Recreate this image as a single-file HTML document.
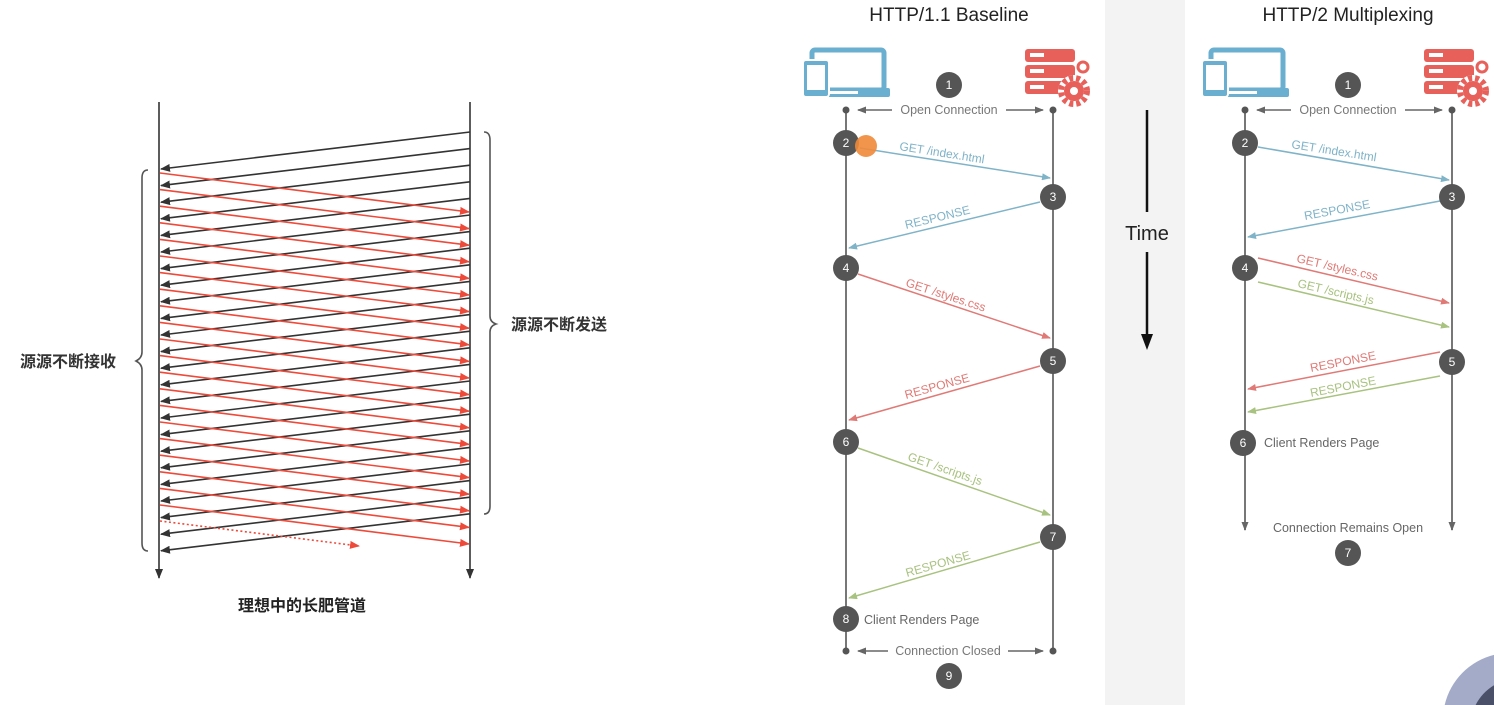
<!DOCTYPE html>
<html><head><meta charset="utf-8"><style>
html,body{margin:0;padding:0;background:#fff;width:1494px;height:705px;overflow:hidden}
svg{display:block}
text{font-family:"Liberation Sans","Noto Sans CJK SC",sans-serif}
</style></head><body>
<svg width="1494" height="705" viewBox="0 0 1494 705" xmlns="http://www.w3.org/2000/svg">
<defs>
<marker id="ak" markerWidth="10" markerHeight="8" refX="9" refY="4" orient="auto" markerUnits="userSpaceOnUse"><path d="M0,0 L10,4 L0,8 z" fill="#333"/></marker>
<marker id="ar" markerWidth="10" markerHeight="8" refX="9" refY="4" orient="auto" markerUnits="userSpaceOnUse"><path d="M0,0 L10,4 L0,8 z" fill="#ee4a3a"/></marker>
<marker id="ag" markerWidth="9" markerHeight="7" refX="8" refY="3.5" orient="auto" markerUnits="userSpaceOnUse"><path d="M0,0 L9,3.5 L0,7 z" fill="#666"/></marker>
<marker id="ab" markerWidth="9" markerHeight="7" refX="8" refY="3.5" orient="auto" markerUnits="userSpaceOnUse"><path d="M0,0 L9,3.5 L0,7 z" fill="#7fb3c8"/></marker>
<marker id="arr" markerWidth="9" markerHeight="7" refX="8" refY="3.5" orient="auto" markerUnits="userSpaceOnUse"><path d="M0,0 L9,3.5 L0,7 z" fill="#e07a76"/></marker>
<marker id="agr" markerWidth="9" markerHeight="7" refX="8" refY="3.5" orient="auto" markerUnits="userSpaceOnUse"><path d="M0,0 L9,3.5 L0,7 z" fill="#a8c27f"/></marker>
<line id="bl" x1="470" y1="0" x2="161" y2="37" stroke="#333" stroke-width="1.6" marker-end="url(#ak)"/>
<line id="rl" x1="160" y1="0" x2="469" y2="39" stroke="#ee4a3a" stroke-width="1.6" marker-end="url(#ar)"/>
<g id="laptop">
<rect x="812" y="50" width="72" height="40" rx="3" fill="none" stroke="#6aaed0" stroke-width="5"/>
<rect x="803" y="88" width="87" height="9" rx="2" fill="#6aaed0"/>
<rect x="828" y="91" width="30" height="3" fill="#fff"/>
<rect x="803" y="60" width="26" height="37" rx="3" fill="#6aaed0" stroke="#fff" stroke-width="2"/>
<rect x="807" y="65" width="18" height="25" fill="#fff"/>
</g>
<g id="server">
<rect x="1025" y="49" width="50" height="13" rx="3" fill="#e8605a"/>
<rect x="1025" y="65" width="50" height="13" rx="3" fill="#e8605a"/>
<rect x="1025" y="81" width="50" height="13" rx="3" fill="#e8605a"/>
<rect x="1030" y="53" width="14" height="4" fill="#fff"/>
<rect x="1030" y="69" width="14" height="4" fill="#fff"/>
<rect x="1030" y="85" width="14" height="4" fill="#fff"/>
<circle cx="1074" cy="91" r="16" fill="#fff"/>
<circle cx="1074" cy="91" r="13" fill="none" stroke="#e8605a" stroke-width="6" stroke-dasharray="4 3"/>
<circle cx="1074" cy="91" r="10" fill="#e8605a"/>
<circle cx="1074" cy="91" r="4" fill="#fff"/>
<circle cx="1083" cy="67" r="5" fill="none" stroke="#e8605a" stroke-width="3"/>
</g>
</defs>

<line x1="159" y1="102" x2="159" y2="578" stroke="#333" stroke-width="1.6" marker-end="url(#ak)"/>
<line x1="470" y1="102" x2="470" y2="578" stroke="#333" stroke-width="1.6" marker-end="url(#ak)"/>
<g>
<use href="#bl" y="132"/><use href="#bl" y="148.6"/><use href="#bl" y="165.2"/><use href="#bl" y="181.8"/><use href="#bl" y="198.4"/><use href="#bl" y="215"/><use href="#bl" y="231.6"/><use href="#bl" y="248.2"/><use href="#bl" y="264.8"/><use href="#bl" y="281.4"/><use href="#bl" y="298"/><use href="#bl" y="314.6"/><use href="#bl" y="331.2"/><use href="#bl" y="347.8"/><use href="#bl" y="364.4"/><use href="#bl" y="381"/><use href="#bl" y="397.6"/><use href="#bl" y="414.2"/><use href="#bl" y="430.8"/><use href="#bl" y="447.4"/><use href="#bl" y="464"/><use href="#bl" y="480.6"/><use href="#bl" y="497.2"/><use href="#bl" y="513.8"/>
</g>
<g>
<use href="#rl" y="173"/><use href="#rl" y="189.6"/><use href="#rl" y="206.2"/><use href="#rl" y="222.8"/><use href="#rl" y="239.4"/><use href="#rl" y="256"/><use href="#rl" y="272.6"/><use href="#rl" y="289.2"/><use href="#rl" y="305.8"/><use href="#rl" y="322.4"/><use href="#rl" y="339"/><use href="#rl" y="355.6"/><use href="#rl" y="372.2"/><use href="#rl" y="388.8"/><use href="#rl" y="405.4"/><use href="#rl" y="422"/><use href="#rl" y="438.6"/><use href="#rl" y="455.2"/><use href="#rl" y="471.8"/><use href="#rl" y="488.4"/><use href="#rl" y="505"/>
</g>
<line x1="160" y1="521" x2="359" y2="546" stroke="#ee4a3a" stroke-width="1.6" stroke-dasharray="2 2.5" marker-end="url(#ar)"/>
<path d="M484,132 Q490,132 490,140 L490,316 Q490,322 496,324 Q490,326 490,332 L490,506 Q490,514 484,514" fill="none" stroke="#555" stroke-width="1.6"/>
<path d="M148,170 Q142,170 142,178 L142,352 Q142,358 136,361 Q142,364 142,370 L142,543 Q142,551 148,551" fill="none" stroke="#555" stroke-width="1.6"/>
<text x="511" y="330" font-size="16" font-weight="bold" fill="#333">源源不断发送</text>
<text x="20" y="367" font-size="16" font-weight="bold" fill="#333">源源不断接收</text>
<text x="238" y="611" font-size="16" font-weight="bold" fill="#222">理想中的长肥管道</text>

<rect x="1105" y="0" width="80" height="705" fill="#f3f3f3"/>
<text x="1147" y="240" font-size="20" text-anchor="middle" fill="#222">Time</text>
<line x1="1147" y1="110" x2="1147" y2="212" stroke="#111" stroke-width="2.5"/>
<line x1="1147" y1="252" x2="1147" y2="338" stroke="#111" stroke-width="2.5"/>
<path d="M1141,334 L1153,334 L1147,350 z" fill="#111"/>

<text x="949" y="21" font-size="19" text-anchor="middle" fill="#222">HTTP/1.1 Baseline</text>
<use href="#laptop"/>
<use href="#server"/>
<line x1="846" y1="110" x2="846" y2="651" stroke="#777" stroke-width="2"/>
<line x1="1053" y1="110" x2="1053" y2="651" stroke="#777" stroke-width="2"/>
<circle cx="846" cy="110" r="3.5" fill="#555"/><circle cx="1053" cy="110" r="3.5" fill="#555"/>
<circle cx="846" cy="651" r="3.5" fill="#555"/><circle cx="1053" cy="651" r="3.5" fill="#555"/>
<line x1="892" y1="110" x2="858" y2="110" stroke="#666" stroke-width="1.5" marker-end="url(#ag)"/>
<line x1="1006" y1="110" x2="1043" y2="110" stroke="#666" stroke-width="1.5" marker-end="url(#ag)"/>
<text x="949" y="114" font-size="12.5" text-anchor="middle" fill="#777">Open Connection</text>
<line x1="888" y1="651" x2="858" y2="651" stroke="#666" stroke-width="1.5" marker-end="url(#ag)"/>
<line x1="1008" y1="651" x2="1043" y2="651" stroke="#666" stroke-width="1.5" marker-end="url(#ag)"/>
<text x="948" y="655" font-size="12.5" text-anchor="middle" fill="#777">Connection Closed</text>

<line x1="860" y1="148" x2="1050" y2="178" stroke="#7fb3c8" stroke-width="1.5" marker-end="url(#ab)"/>
<text transform="translate(899,150) rotate(9)" font-size="12" fill="#7fb3c8">GET /index.html</text>
<line x1="1040" y1="202" x2="849" y2="248" stroke="#7fb3c8" stroke-width="1.5" marker-end="url(#ab)"/>
<text transform="translate(906,229) rotate(-13.5)" font-size="12" fill="#7fb3c8">RESPONSE</text>
<line x1="858" y1="274" x2="1050" y2="338" stroke="#e07a76" stroke-width="1.5" marker-end="url(#arr)"/>
<text transform="translate(905,286) rotate(18)" font-size="12" fill="#e07a76">GET /styles.css</text>
<line x1="1040" y1="366" x2="849" y2="420" stroke="#e07a76" stroke-width="1.5" marker-end="url(#arr)"/>
<text transform="translate(906,399) rotate(-15.5)" font-size="12" fill="#e07a76">RESPONSE</text>
<line x1="858" y1="448" x2="1050" y2="515" stroke="#a8c27f" stroke-width="1.5" marker-end="url(#agr)"/>
<text transform="translate(907,460) rotate(19)" font-size="12" fill="#a8c27f">GET /scripts.js</text>
<line x1="1040" y1="542" x2="849" y2="598" stroke="#a8c27f" stroke-width="1.5" marker-end="url(#agr)"/>
<text transform="translate(907,577) rotate(-16)" font-size="12" fill="#a8c27f">RESPONSE</text>
<text x="864" y="624" font-size="12.5" fill="#666">Client Renders Page</text>

<g fill="#555">
<circle cx="949" cy="85" r="13"/><circle cx="846" cy="143" r="13"/><circle cx="1053" cy="197" r="13"/>
<circle cx="846" cy="268" r="13"/><circle cx="1053" cy="361" r="13"/><circle cx="846" cy="442" r="13"/>
<circle cx="1053" cy="537" r="13"/><circle cx="846" cy="619" r="13"/><circle cx="949" cy="676" r="13"/>
</g>
<circle cx="866" cy="146" r="11" fill="#f08a3a" opacity="0.9"/>
<g fill="#fff" font-size="12" text-anchor="middle">
<text x="949" y="89">1</text><text x="846" y="147">2</text><text x="1053" y="201">3</text>
<text x="846" y="272">4</text><text x="1053" y="365">5</text><text x="846" y="446">6</text>
<text x="1053" y="541">7</text><text x="846" y="623">8</text><text x="949" y="680">9</text>
</g>

<text x="1348" y="21" font-size="19" text-anchor="middle" fill="#222">HTTP/2 Multiplexing</text>
<use href="#laptop" x="399"/>
<use href="#server" x="399"/>
<line x1="1245" y1="110" x2="1245" y2="530" stroke="#777" stroke-width="2" marker-end="url(#ag)"/>
<line x1="1452" y1="110" x2="1452" y2="530" stroke="#777" stroke-width="2" marker-end="url(#ag)"/>
<circle cx="1245" cy="110" r="3.5" fill="#555"/><circle cx="1452" cy="110" r="3.5" fill="#555"/>
<line x1="1291" y1="110" x2="1257" y2="110" stroke="#666" stroke-width="1.5" marker-end="url(#ag)"/>
<line x1="1405" y1="110" x2="1442" y2="110" stroke="#666" stroke-width="1.5" marker-end="url(#ag)"/>
<text x="1348" y="114" font-size="12.5" text-anchor="middle" fill="#777">Open Connection</text>

<line x1="1258" y1="147" x2="1449" y2="180" stroke="#7fb3c8" stroke-width="1.5" marker-end="url(#ab)"/>
<text transform="translate(1291,148) rotate(9)" font-size="12" fill="#7fb3c8">GET /index.html</text>
<line x1="1440" y1="201" x2="1248" y2="237" stroke="#7fb3c8" stroke-width="1.5" marker-end="url(#ab)"/>
<text transform="translate(1305,220) rotate(-10.5)" font-size="12" fill="#7fb3c8">RESPONSE</text>
<line x1="1258" y1="258" x2="1449" y2="303" stroke="#e07a76" stroke-width="1.5" marker-end="url(#arr)"/>
<text transform="translate(1296,262) rotate(13)" font-size="12" fill="#e07a76">GET /styles.css</text>
<line x1="1258" y1="282" x2="1449" y2="327" stroke="#a8c27f" stroke-width="1.5" marker-end="url(#agr)"/>
<text transform="translate(1297,287) rotate(13)" font-size="12" fill="#a8c27f">GET /scripts.js</text>
<line x1="1440" y1="352" x2="1248" y2="389" stroke="#e07a76" stroke-width="1.5" marker-end="url(#arr)"/>
<text transform="translate(1311,372) rotate(-11)" font-size="12" fill="#e07a76">RESPONSE</text>
<line x1="1440" y1="376" x2="1248" y2="412" stroke="#a8c27f" stroke-width="1.5" marker-end="url(#agr)"/>
<text transform="translate(1311,397) rotate(-11)" font-size="12" fill="#a8c27f">RESPONSE</text>
<text x="1264" y="447" font-size="12.5" fill="#666">Client Renders Page</text>
<text x="1348" y="532" font-size="12.5" text-anchor="middle" fill="#666">Connection Remains Open</text>

<g fill="#555">
<circle cx="1348" cy="85" r="13"/><circle cx="1245" cy="143" r="13"/><circle cx="1452" cy="197" r="13"/>
<circle cx="1245" cy="268" r="13"/><circle cx="1452" cy="362" r="13"/><circle cx="1243" cy="443" r="13"/>
<circle cx="1348" cy="553" r="13"/>
</g>
<g fill="#fff" font-size="12" text-anchor="middle">
<text x="1348" y="89">1</text><text x="1245" y="147">2</text><text x="1452" y="201">3</text>
<text x="1245" y="272">4</text><text x="1452" y="366">5</text><text x="1243" y="447">6</text>
<text x="1348" y="557">7</text>
</g>

<path d="M1444.7,705 A67,67 0 0 1 1494,654.9 L1494,705 Z" fill="#a3abc9"/>
<path d="M1475.6,705 A50,50 0 0 1 1494,685.3 L1494,705 Z" fill="#4a5068"/>
</svg>
</body></html>
